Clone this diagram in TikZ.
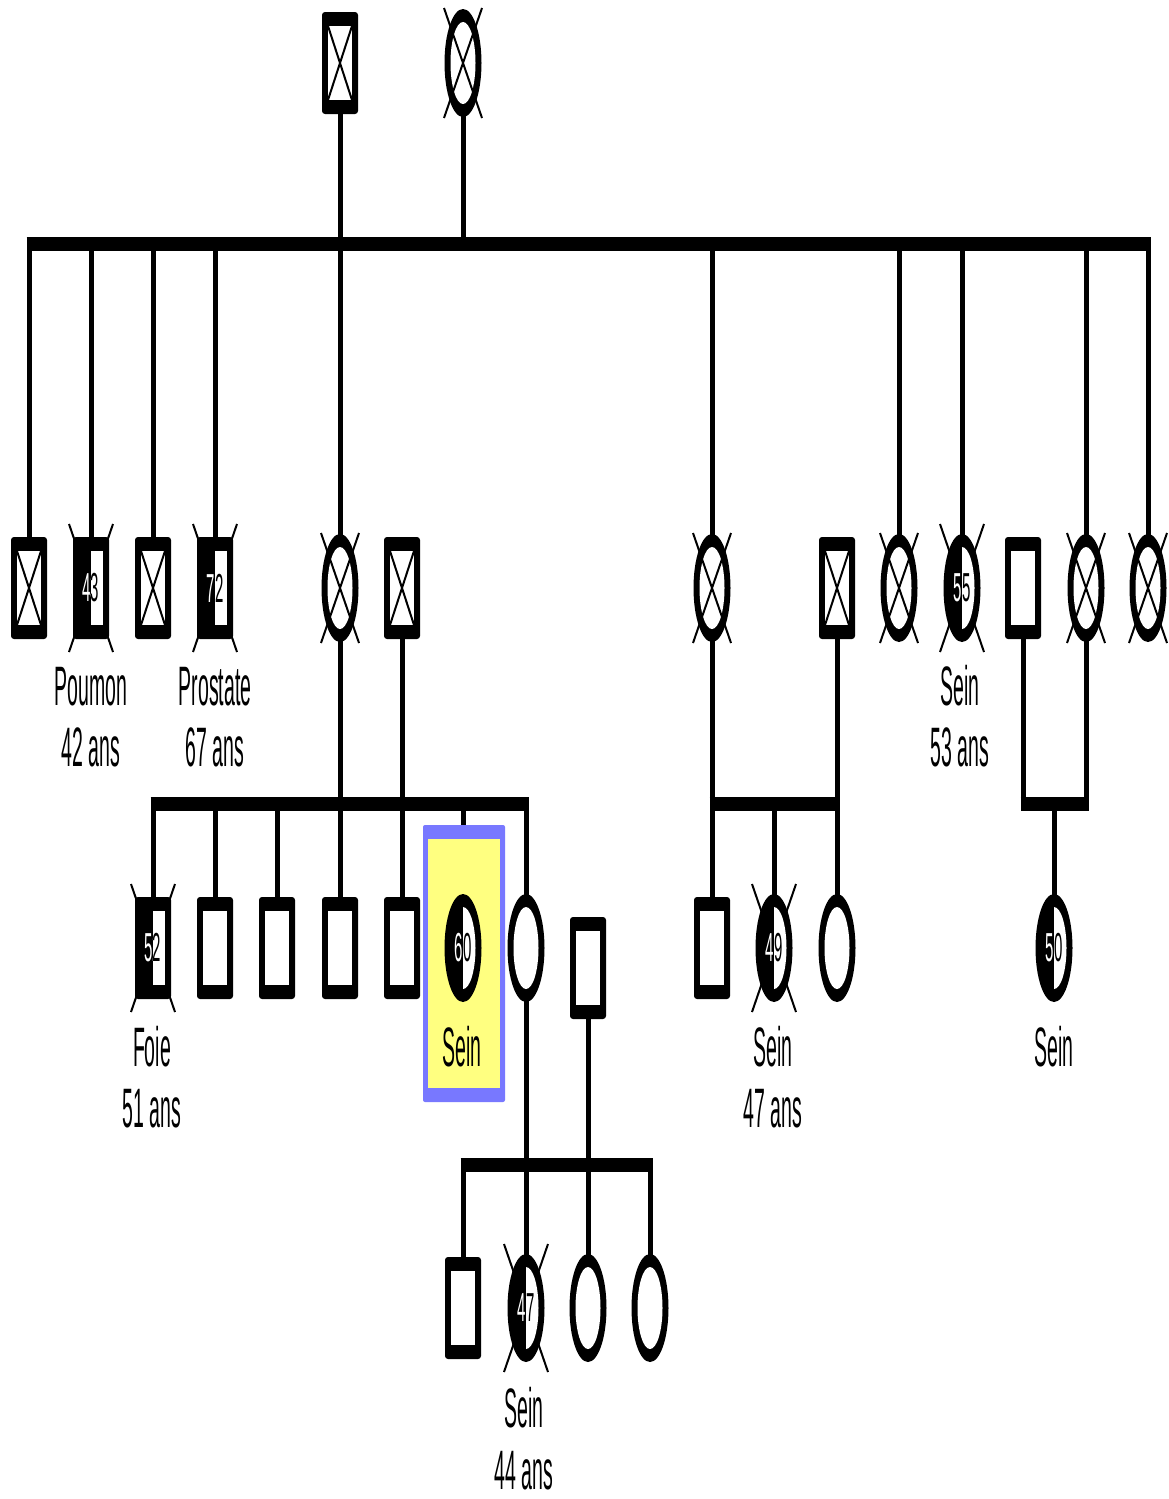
\documentclass[tikz,border=0pt]{standalone}
\usepackage{fontspec}
\setmainfont{Liberation Sans}
\usepackage{graphicx}
\definecolor{boxblue}{RGB}{120,120,255}
\definecolor{boxyellow}{RGB}{255,255,128}
\newcommand\lblfont{\fontsize{19.5}{22}\selectfont}
\newcommand\numfont{\fontsize{15}{16}\selectfont}
\tikzset{
  pnode/.style={inner sep=0pt, outer sep=0pt, minimum width=36pt, minimum height=102pt},
  vl/.style={line width=5pt},
  hb/.style={line width=14pt},
  xl/.style={line width=2pt},
  lbl/.style={anchor=base, inner sep=0pt, font=\lblfont},
  numtxt/.style={inner sep=0pt, font=\numfont}
}
\newcommand\SqBody{\fill[rounded corners=3pt] (-18,-51) rectangle (18,51);}
\newcommand\SqHole{\fill[white] (-12,-37) rectangle (12,37);}
\newcommand\SqHalf{\fill[white] (0,-37) rectangle (12,37);}
\newcommand\CiBody{\fill (0,0) ellipse [x radius=18.5, y radius=54];}
\newcommand\CiHole{\fill[white] (0,0) ellipse [x radius=12.5, y radius=41];}
\newcommand\CiHalf{\fill[white] (0,41) arc[start angle=90, end angle=-90, x radius=12.5, y radius=41] -- cycle;}
\newcommand\Num[2]{%
  \begin{scope}\clip (-25,-60) rectangle (0,60);
    \node[numtxt, white] (#1nw) at (0,0) {\scalebox{1}[2.7]{#2}};\end{scope}
  \begin{scope}\clip (0,-60) rectangle (25,60);
    \node[numtxt, black] (#1nb) at (0,0) {\scalebox{1}[2.7]{#2}};\end{scope}}
% plain square
\newcommand\pSq[3]{\node[pnode] (#1) at (#2,#3) {};
  \begin{scope}[shift={(#2,#3)}]\SqBody\SqHole\end{scope}}
% square with X inside
\newcommand\pSqX[3]{\node[pnode] (#1) at (#2,#3) {};
  \begin{scope}[shift={(#2,#3)}]\SqBody\SqHole
  \draw[xl] (-12,-37) -- (12,37) (-12,37) -- (12,-37);\end{scope}}
% plain circle
\newcommand\pCi[3]{\node[pnode] (#1) at (#2,#3) {};
  \begin{scope}[shift={(#2,#3)}]\CiBody\CiHole\end{scope}}
% circle with X
\newcommand\pCiX[3]{\node[pnode] (#1) at (#2,#3) {};
  \begin{scope}[shift={(#2,#3)}]\CiBody\CiHole
  \draw[xl] (-19,-55) -- (19,55) (-19,55) -- (19,-55);\end{scope}}
% deceased ticks
\newcommand\Ticks[2]{\begin{scope}[shift={(#1,#2)}]
  \draw[xl] (-22,-64) -- (22,64) (-22,64) -- (22,-64);\end{scope}}
% affected square
\newcommand\pSqA[4]{\node[pnode] (#1) at (#2,#3) {};
  \begin{scope}[shift={(#2,#3)}]\SqBody\SqHalf\Num{#1}{#4}\end{scope}}
% affected circle
\newcommand\pCiA[4]{\node[pnode] (#1) at (#2,#3) {};
  \begin{scope}[shift={(#2,#3)}]\CiBody\CiHalf\Num{#1}{#4}\end{scope}}
\newcommand\lab[4]{\node[lbl] (#1) at (#2,#3) {\scalebox{1}[2.85]{#4}};}
\begin{document}
\begin{tikzpicture}[x=1pt, y=-1pt]
\useasboundingbox (0,0) rectangle (1168,1499);
\fill[white] (0,0) rectangle (1168,1499);

% proband box
\node[inner sep=0pt, minimum width=82pt, minimum height=277pt, fill=boxblue, rounded corners=2pt] (pbox) at (464,963.5) {};
\fill[boxyellow] (428,839) rectangle (500,1088);

% Generation I
\pSqX{gm}{340}{63}
\pCiX{gf}{463}{63}

% Generation II
\pSqX{a1}{29}{588}
\Ticks{91}{588}\pSqA{a2}{91}{588}{43}
\pSqX{a3}{153}{588}
\Ticks{215}{588}\pSqA{a4}{215}{588}{72}
\pCiX{a5}{340}{588}
\pSqX{a6}{402}{588}
\pCiX{a7}{712}{588}
\pSqX{a8}{837}{588}
\pCiX{a9}{899}{588}
\Ticks{962}{588}\pCiA{a10}{962}{588}{55}
\pSq{a11}{1023}{588}
\pCiX{a12}{1086}{588}
\pCiX{a13}{1148}{588}

% Generation III
\Ticks{153}{948}\pSqA{b1}{153}{948}{52}
\pSq{b2}{215}{948}
\pSq{b3}{277}{948}
\pSq{b4}{340}{948}
\pSq{b5}{402}{948}
\pCiA{b6}{463}{948}{60}
\pCi{b7}{526}{948}
\pSq{b8}{588}{968}
\pSq{c1}{712}{948}
\Ticks{774}{948}\pCiA{c2}{774}{948}{49}
\pCi{c3}{837}{948}
\pCiA{d1}{1054}{948}{50}

% Generation IV
\pSq{e1}{463}{1308}
\Ticks{526}{1308}\pCiA{e2}{526}{1308}{47}
\pCi{e3}{588}{1308}
\pCi{e4}{650}{1308}

% bars
\coordinate (B1L) at (26.5,244);  \coordinate (B1R) at (1150.5,244);
\coordinate (B2L) at (150.5,804); \coordinate (B2R) at (528.5,804);
\coordinate (B3L) at (709.5,804); \coordinate (B3R) at (839.5,804);
\coordinate (B4L) at (1020.5,804); \coordinate (B4R) at (1088.5,804);
\coordinate (B5L) at (460.5,1165); \coordinate (B5R) at (652.5,1165);
\draw[hb] (B1L) -- (B1R);
\draw[hb] (B2L) -- (B2R);
\draw[hb] (B3L) -- (B3R);
\draw[hb] (B4L) -- (B4R);
\draw[hb] (B5L) -- (B5R);

% parents to bars
\foreach \p in {gm,gf} \draw[vl] (\p.south) -- (\p.south |- B1L);
\foreach \p in {a5,a6} \draw[vl] (\p.south) -- (\p.south |- B2L);
\foreach \p in {a7,a8} \draw[vl] (\p.south) -- (\p.south |- B3L);
\foreach \p in {a11,a12} \draw[vl] (\p.south) -- (\p.south |- B4L);
\foreach \p in {b7,b8} \draw[vl] (\p.south) -- (\p.south |- B5L);

% bars to children
\foreach \c in {a1,a2,a3,a4,a5,a7,a9,a10,a12,a13} \draw[vl] (\c.north |- B1L) -- (\c.north);
\foreach \c in {b1,b2,b3,b4,b5,b7} \draw[vl] (\c.north |- B2L) -- (\c.north);
\draw[vl] (b6.north |- B2L) -- (b6.north |- pbox.north);
\foreach \c in {c1,c2,c3} \draw[vl] (\c.north |- B3L) -- (\c.north);
\draw[vl] (d1.north |- B4L) -- (d1.north);
\foreach \c in {e1,e2,e3,e4} \draw[vl] (\c.north |- B5L) -- (\c.north);

% labels
\lab{l1}{91}{705}{Poumon}   \lab{l2}{91}{766}{42 ans}
\lab{l3}{215}{705}{Prostate} \lab{l4}{215}{766}{67 ans}
\lab{l5}{960}{705}{Sein}    \lab{l6}{960}{766}{53 ans}
\lab{l7}{152}{1066}{Foie}   \lab{l8}{152}{1127}{51 ans}
\lab{l9}{462}{1066}{Sein}
\lab{l10}{773}{1066}{Sein}  \lab{l11}{773}{1127}{47 ans}
\lab{l12}{1054}{1066}{Sein}
\lab{l13}{524}{1427}{Sein}  \lab{l14}{524}{1489}{44 ans}
\end{tikzpicture}
\end{document}
